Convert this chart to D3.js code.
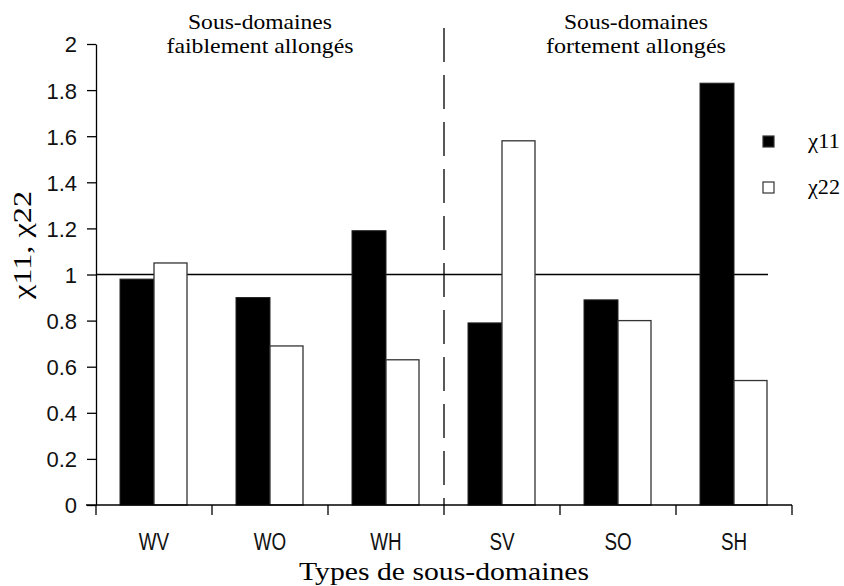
<!DOCTYPE html>
<html><head><meta charset="utf-8">
<script src="https://cdn.jsdelivr.net/npm/d3@7"></script>
<style>body{margin:0;background:#fff}</style>
</head><body>
<svg id="chart" width="844" height="586"></svg>
<script>
const categories = ["WV","WO","WH","SV","SO","SH"];
const chi11 = [0.98, 0.90, 1.19, 0.79, 0.89, 1.83];
const chi22 = [1.05, 0.69, 0.63, 1.58, 0.80, 0.54];
const seriesNames = ["χ11","χ22"];
const yTicks = [0,0.2,0.4,0.6,0.8,1,1.2,1.4,1.6,1.8,2];
const groupLabels = [["Sous-domaines","faiblement allongés"],["Sous-domaines","fortement allongés"]];

const svg = d3.select("#chart");
const x = d3.scaleBand().domain(categories).range([96,792]).paddingInner(0).paddingOuter(0);
const y = d3.scaleLinear().domain([0,2]).range([505,44]);
const bw = 34;
const off = (x.bandwidth() - 2*bw)/2;

const sans = "'Liberation Sans', Arial, sans-serif";
const serif = "'Liberation Serif', 'DejaVu Serif', serif";

// reference line at 1
svg.append("line").attr("x1",96).attr("x2",768).attr("y1",y(1)).attr("y2",y(1))
  .attr("stroke","#000").attr("stroke-width",1.3);

// bars
const data = categories.map((c,i)=>({c, a:chi11[i], b:chi22[i]}));
svg.selectAll("rect.a").data(data).join("rect").attr("class","a")
  .attr("x",d=>x(d.c)+off).attr("width",bw)
  .attr("y",d=>y(d.a)).attr("height",d=>y(0)-y(d.a))
  .attr("fill","#000").attr("stroke","#222").attr("stroke-width",1);
svg.selectAll("rect.b").data(data).join("rect").attr("class","b")
  .attr("x",d=>x(d.c)+off+bw).attr("width",bw-1)
  .attr("y",d=>y(d.b)).attr("height",d=>y(0)-y(d.b))
  .attr("fill","#fff").attr("stroke","#333").attr("stroke-width",1.3);

// dashed separator
const sepX = x("SV");
svg.append("line").attr("x1",sepX).attr("x2",sepX).attr("y1",28).attr("y2",505)
  .attr("stroke","#000").attr("stroke-width",1.3).attr("stroke-dasharray","34,13");

// y axis
const yAxis = d3.axisLeft(y).tickValues(yTicks).tickFormat(d=>String(d)).tickSize(9).tickSizeOuter(0);
const gy = svg.append("g").attr("transform","translate(96,0)").call(yAxis);
gy.select(".domain").attr("stroke","#000").attr("stroke-width",1.3);
gy.selectAll(".tick line").attr("stroke","#000").attr("stroke-width",1.3);
gy.selectAll(".tick text").attr("x",-19).attr("dy","0.36em").attr("font-family",sans).attr("font-size",22).attr("fill","#111");

// x axis
const xTickPos = d3.range(categories.length+1).map(i=>96 + i*x.bandwidth());
svg.append("line").attr("x1",86).attr("x2",792).attr("y1",505).attr("y2",505)
  .attr("stroke","#000").attr("stroke-width",1.3);
svg.selectAll("line.xt").data(xTickPos).join("line").attr("class","xt")
  .attr("x1",d=>d).attr("x2",d=>d).attr("y1",505).attr("y2",515)
  .attr("stroke","#000").attr("stroke-width",1.3);
svg.selectAll("text.xl").data(categories).join("text").attr("class","xl")
  .attr("transform",d=>`translate(${x(d)+x.bandwidth()/2},550) scale(0.82,1)`)
  .attr("text-anchor","middle")
  .attr("font-family",sans).attr("font-size",23).attr("fill","#111")
  .text(d=>d);

// x title
svg.append("text").attr("x",444).attr("y",580).attr("text-anchor","middle")
  .attr("font-family",serif).attr("font-size",26).attr("fill","#000")
  .attr("textLength",290).attr("lengthAdjust","spacingAndGlyphs")
  .text("Types de sous-domaines");

// y title
svg.append("text").attr("transform","translate(31,245) rotate(-90)").attr("text-anchor","middle")
  .attr("font-family",serif).attr("font-size",25).attr("fill","#000")
  .attr("textLength",108).attr("lengthAdjust","spacingAndGlyphs")
  .text("χ11,  χ22");

// group labels
const gx = [260, 636];
const glen = [[144,187],[144,180]];
groupLabels.forEach((lines,i)=>{
  lines.forEach((t,j)=>{
    svg.append("text").attr("x",gx[i]).attr("y",29+j*24).attr("text-anchor","middle")
      .attr("font-family",serif).attr("font-size",21).attr("fill","#000")
      .attr("textLength",glen[i][j]).attr("lengthAdjust","spacingAndGlyphs").text(t);
  });
});

// legend
const legend = svg.append("g");
seriesNames.forEach((n,i)=>{
  legend.append("rect").attr("x",763).attr("y",136+i*46).attr("width",11).attr("height",11)
    .attr("fill",i===0?"#000":"#fff").attr("stroke","#333").attr("stroke-width",1.2);
  legend.append("text").attr("x",808).attr("y",148+i*46)
    .attr("font-family",serif).attr("font-size",21).attr("fill","#000")
    .attr("textLength",32).attr("lengthAdjust","spacingAndGlyphs").text(n);
});
</script>
</body></html>
